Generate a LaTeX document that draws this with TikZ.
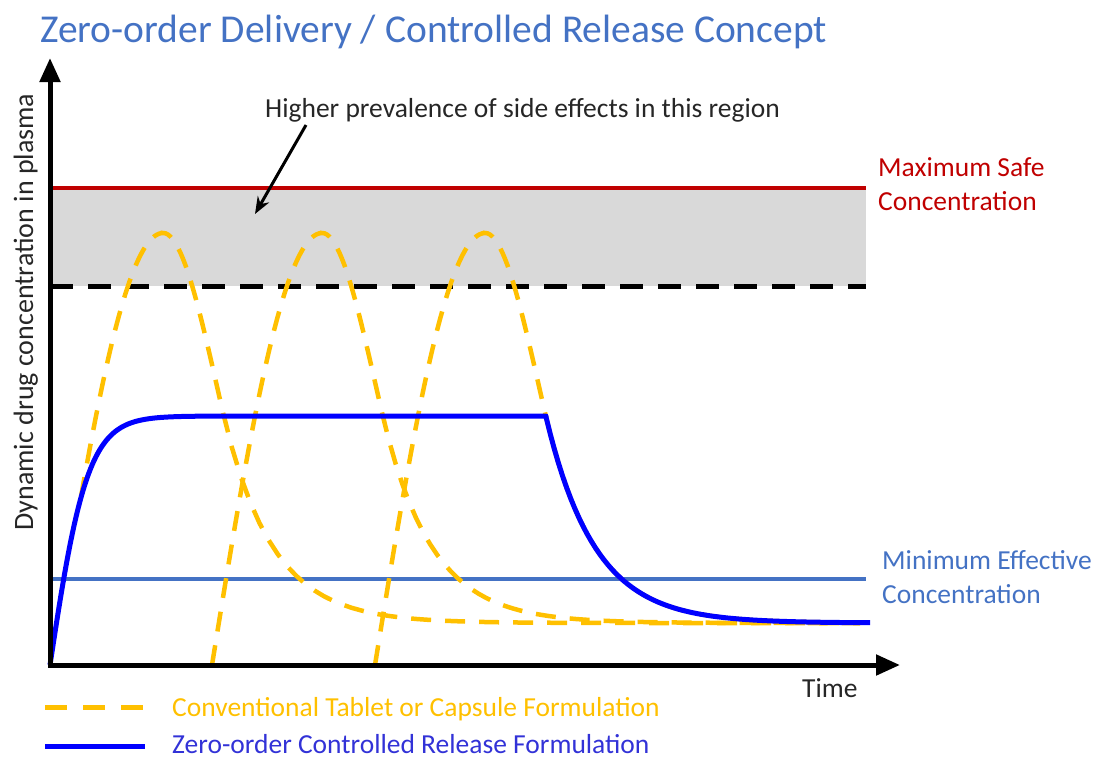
\documentclass[tikz,border=0pt]{standalone}
\usepackage{fontspec}
\setmainfont{Carlito}
\usetikzlibrary{arrows.meta}
\definecolor{titleblue}{RGB}{68,114,196}
\definecolor{mecblue}{RGB}{68,114,196}
\definecolor{msred}{RGB}{192,0,0}
\definecolor{yel}{RGB}{255,192,0}
\definecolor{zblue}{RGB}{0,0,255}
\definecolor{zbluetext}{RGB}{50,50,215}
\definecolor{shadegray}{RGB}{217,217,217}
\definecolor{txtgray}{RGB}{38,38,38}
\begin{document}
\begin{tikzpicture}[x=1pt,y=-1pt,
  lbl/.style={inner sep=0pt, anchor=base west, font=\fontsize{27.5}{33}\selectfont},
  axisline/.style={line width=5pt, -{Triangle[length=24pt,width=20pt]}},
  pulse/.style={yel, line width=4.5pt, dash pattern=on 20pt off 14pt},
  zocurve/.style={zblue, line width=5pt, line join=round},
  refline/.style={line width=3.5pt},
  annarrow/.style={line width=3pt, black, -{Stealth[length=17pt,width=13pt]}}
]
\useasboundingbox (0,0) rectangle (1099,758);

% coordinates of the chart
\coordinate (O) at (50,665);
\coordinate (Oy) at (50,667.5);
\coordinate (Ox) at (47.5,665);
\coordinate (ytip) at (50,58);
\coordinate (xtip) at (900,665);
\coordinate (redL) at (50,188);
\coordinate (redR) at (866,188);
\coordinate (dashL) at (50,286);
\coordinate (dashR) at (866,286);
\coordinate (mecL) at (50,579);
\coordinate (mecR) at (866,579);

% side-effect region
\fill[shadegray] (redL) rectangle (dashR);
\draw[refline, msred] (redL) -- (redR);
\draw[line width=5pt, black, dash pattern=on 23pt off 15pt] (dashL) -- (dashR);
\draw[refline, mecblue] (mecL) -- (mecR);

% conventional formulation pulses (start offset, first visible offset)
\foreach \s/\o in {53/28,212/0,375/0}{
  \pgfmathsetmacro\st{\s+\o}
  \pgfmathsetmacro\pk{\s+110}
  \pgfmathsetmacro\sw{\s+169.5}
  \draw[pulse]
    plot[domain=\st:\pk, samples=40] (\x,{665-432*sin(90*(\x-\s)/110)})
    -- plot[domain=\pk:\sw, samples=25] (\x,{623-390*exp(-((\x-\pk)^2)/5832)})
    -- plot[domain=\sw:860, samples=70] (\x,{623-390*exp(-0.607-(\x-\sw)/49)});
}

% zero-order controlled release
\draw[zocurve]
  plot[domain=50:270, samples=120] (\x,{665-249*(1-exp(-2*(\x-50)/38))/(1+exp(-2*(\x-50)/38))})
  -- (546,416)
  -- plot[domain=546:870, samples=80] (\x,{623-390*exp(-0.607-(\x-544.5)/49)});

% axes
\draw[axisline] (Oy) -- (ytip);
\draw[axisline] (Ox) -- (xtip);

% annotation
\node[lbl, text=txtgray] (annot) at (265,117) {Higher prevalence of side effects in this region};
\coordinate (annS) at (306,125);
\coordinate (annE) at (255,214);
\draw[annarrow] (annS) -- (annE);

% title
\node[inner sep=0pt, anchor=base west, text=titleblue, font=\fontsize{39.5}{46}\selectfont] (title) at (40,42) {Zero-order Delivery / Controlled Release Concept};

% right labels
\node[lbl, text=msred] (ms1) at (878,176) {Maximum Safe};
\node[lbl, text=msred] (ms2) at (878,210) {Concentration};
\node[lbl, text=mecblue] (me1) at (882,569) {Minimum Effective};
\node[lbl, text=mecblue] (me2) at (882,603) {Concentration};

% axis labels
\node[lbl, text=txtgray] (time) at (802,697) {Time};
\node[inner sep=0pt, anchor=base, rotate=90, text=txtgray, font=\fontsize{28}{33}\selectfont] (ylab) at (33,312) {Dynamic drug concentration in plasma};

% legend
\coordinate (lg1L) at (45,707);
\coordinate (lg1R) at (145,707);
\coordinate (lg2L) at (45,746);
\coordinate (lg2R) at (145,746);
\draw[yel, line width=5pt, dash pattern=on 22pt off 16pt] (lg1L) -- (lg1R);
\draw[zblue, line width=5pt] (lg2L) -- (lg2R);
\node[lbl, text=yel] (leg1) at (172,716) {Conventional Tablet or Capsule Formulation};
\node[lbl, text=zbluetext] (leg2) at (172,753) {Zero-order Controlled Release Formulation};
\end{tikzpicture}
\end{document}
